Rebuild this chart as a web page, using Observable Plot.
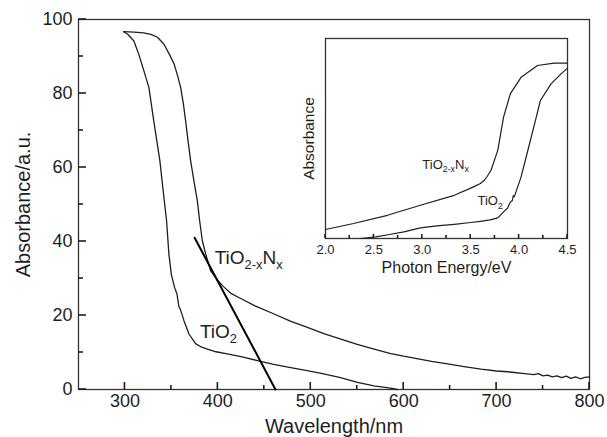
<!DOCTYPE html>
<html><head><meta charset="utf-8">
<script src="https://cdn.jsdelivr.net/npm/d3@7"></script>
<script src="https://cdn.jsdelivr.net/npm/@observablehq/plot@0.6"></script>
<style>
body{margin:0;background:#fff;}
#wrap{position:relative;width:607px;height:437px;overflow:hidden;}
#inset{position:absolute;left:300px;top:33px;}
</style></head><body><div id="wrap"><div id="main"></div><div id="inset"></div></div>
<script>
// Main chart: absorbance vs wavelength
const tio2Nm = [298.5,303,309.6,315,320.4,325.8,331,337.6,341,344.8,347.3,350,353.4,356,358,360,363.5,368.9,376,382,388.7,398,410,425,442.6,460,478.4,496,514,532,550.3,568,586,593];
const tio2Abs = [96.7,96.0,94.2,90.5,86.1,81.6,72.6,61.8,54,45.6,36.6,31,27.6,25.8,22.5,21.4,18.6,15,12.4,11.5,10.9,10.2,9.6,8.9,7.8,6.8,5.9,5.1,4.2,3.2,1.9,1.0,0.4,0];
const tioNNm = [298.5,310,320,328,335,342,348,353,357,360,363,365.3,368,370.7,374.5,377.9,380.4,383.3,386.9,392.2,399.4,406,414,424.6,440,460.5,478,496.4,514,532.3,550,568.2,586,600,611.3,630,647.3,665,683.2,700,712,719,730,740,745,750,755,760,765,770,775,780,785,790,795,800];
const tioNAbs = [96.7,96.6,96.4,96.0,95.2,93.3,90.5,87.9,84.5,81.6,77,72.6,67,61.8,56,51,45.6,40.2,36.6,32.1,29.6,27.8,26.0,24.6,22.6,20.4,18.5,16.8,15.1,13.6,12.2,10.9,9.7,9.0,8.5,7.6,6.9,6.2,5.5,5.0,4.8,4.6,4.3,4.0,4.3,3.7,3.9,3.4,3.7,3.2,3.6,3.0,3.4,2.9,3.3,3.4];
const tangentNm = [375, 462];
const tangentAbs = [41, 0];
const xMajor = [300,400,500,600,700,800];
const xMinor = [350,450,550,650,750];
const yMajor = [0,20,40,60,80,100];
const yMinor = [10,30,50,70,90];
const mainLabels = [{t:"TiO2-xNx", nm:396.6, a:34.0}, {t:"TiO2", nm:380.7, a:14.0}];

// Inset: absorbance vs photon energy
const insetNE = [2.0,2.29,2.64,2.98,3.33,3.53,3.60,3.64,3.67,3.71,3.78,3.84,3.91,4.02,4.19,4.36,4.5];
const insetNV = [4.5,7.5,11.6,16.6,21.6,25.8,27.5,29.1,31,34.1,44.2,60.8,72.4,80.6,86.5,87.7,87.7];
const insetTE = [2.36,2.52,2.66,2.81,2.98,3.15,3.33,3.50,3.60,3.70,3.78,3.84,3.88,3.91,3.93,3.94,3.95,4.02,4.09,4.16,4.22,4.33,4.43,4.5];
const insetTV = [0,0.8,2,3.3,5.3,6.3,7.1,8.0,8.6,9.3,10.3,13.3,15.1,18.2,19.0,21.5,20.8,30.7,44,57.3,69,77.3,82.2,85.2];
const insetMajor = [2.0,2.5,3.0,3.5,4.0,4.5];
const insetMinor = [2.25,2.75,3.25,3.75,4.25];
const insetLabels = [{t:"TiO2-xNx", e:3.0, v:35.0}, {t:"TiO2", e:3.57, v:16.6}];

const FONT = "Liberation Sans, Arial, sans-serif";
const INK = "#1e1e1e";
const zip = (xs, ys) => xs.map((x, i) => ({x, y: ys[i]}));

const main = Plot.plot({
  width: 607, height: 437,
  marginLeft: 78, marginRight: 18, marginTop: 19, marginBottom: 48,
  style: {fontFamily: FONT, color: INK, background: "transparent"},
  x: {domain: [250, 800]},
  y: {domain: [0, 100]},
  marks: [
    Plot.axisX(xMajor, {tickSize: 0, tickPadding: 5, fontSize: 18, label: null}),
    Plot.axisY(yMajor, {tickSize: 0, tickPadding: 6, fontSize: 18, label: null}),
    Plot.frame({stroke: "#333", strokeWidth: 1.3}),
    Plot.line(zip(tio2Nm, tio2Abs), {x: "x", y: "y", stroke: INK, strokeWidth: 1.3}),
    Plot.line(zip(tioNNm, tioNAbs), {x: "x", y: "y", stroke: INK, strokeWidth: 1.3}),
    Plot.line(zip(tangentNm, tangentAbs), {x: "x", y: "y", stroke: "#000", strokeWidth: 2}),
    Plot.text(mainLabels, {x: "nm", y: "a", text: "t", textAnchor: "start", lineAnchor: "bottom", fontSize: 19, fill: INK}),
    Plot.text(["Wavelength/nm"], {frameAnchor: "bottom", dy: 37, textAnchor: "middle", lineAnchor: "middle", fontSize: 20, fill: INK}),
    Plot.text(["Absorbance/a.u."], {frameAnchor: "left", dx: -55, rotate: -90, textAnchor: "middle", lineAnchor: "middle", fontSize: 20, fill: INK})
  ]
});
document.getElementById("main").appendChild(main);

const inset = Plot.plot({
  width: 277, height: 250,
  marginLeft: 25, marginRight: 10, marginTop: 5, marginBottom: 45,
  style: {fontFamily: FONT, color: INK, background: "transparent"},
  x: {domain: [2.0, 4.5]},
  y: {domain: [0, 100], axis: null},
  marks: [
    Plot.axisX(insetMajor, {tickSize: 0, tickPadding: 6, fontSize: 13, tickFormat: d3.format(".1f"), label: null}),
    Plot.frame({stroke: "#333", strokeWidth: 1.3}),
    Plot.line(zip(insetNE, insetNV), {x: "x", y: "y", stroke: INK, strokeWidth: 1.2}),
    Plot.line(zip(insetTE, insetTV), {x: "x", y: "y", stroke: INK, strokeWidth: 1.2}),
    Plot.text(insetLabels, {x: "e", y: "v", text: "t", textAnchor: "start", lineAnchor: "bottom", fontSize: 13, fill: INK}),
    Plot.text(["Photon Energy/eV"], {frameAnchor: "bottom", dy: 29, textAnchor: "middle", lineAnchor: "middle", fontSize: 16, fill: INK}),
    Plot.text(["Absorbance"], {frameAnchor: "left", dx: -16, rotate: -90, textAnchor: "middle", lineAnchor: "middle", fontSize: 15.5, fill: INK})
  ]
});
document.getElementById("inset").appendChild(inset);

// Inward-pointing ticks placed through the plots' own scales
function inwardTicks(svg, dim, values, len) {
  const sx = svg.scale("x"), sy = svg.scale("y");
  const x0 = sx.apply(sx.domain[0]), y0 = sy.apply(sy.domain[0]);
  const g = d3.select(svg).append("g").attr("stroke", INK).attr("stroke-width", 1.6);
  values.forEach(v => {
    const l = g.append("line");
    if (dim === "x") {
      const px = sx.apply(v);
      l.attr("x1", px).attr("x2", px).attr("y1", y0).attr("y2", y0 - len);
    } else {
      const py = sy.apply(v);
      l.attr("x1", x0).attr("x2", x0 + len).attr("y1", py).attr("y2", py);
    }
  });
}
inwardTicks(main, "x", xMajor, 7);
inwardTicks(main, "x", xMinor, 4);
inwardTicks(main, "y", yMajor, 8);
inwardTicks(main, "y", yMinor, 5);
inwardTicks(inset, "x", insetMajor, 4);
inwardTicks(inset, "x", insetMinor, 3);

// Render chemical subscripts as real tspans
function subscriptify(svg) {
  svg.querySelectorAll("text").forEach(el => {
    const s = el.textContent;
    if (s !== "TiO2-xNx" && s !== "TiO2") return;
    const fs = parseFloat(el.getAttribute("font-size") || getComputedStyle(el).fontSize);
    const sub = fs * 0.68, shift = fs * 0.3;
    const parts = s === "TiO2" ? [["TiO", 0], ["2", 1]] : [["TiO", 0], ["2-x", 1], ["N", 0], ["x", 1]];
    while (el.firstChild) el.removeChild(el.firstChild);
    let cur = 0;
    parts.forEach(([txt, isSub]) => {
      const ts = document.createElementNS("http://www.w3.org/2000/svg", "tspan");
      ts.textContent = txt;
      const target = isSub ? shift : 0;
      ts.setAttribute("dy", (target - cur).toFixed(2));
      cur = target;
      if (isSub) ts.setAttribute("font-size", sub.toFixed(1));
      el.appendChild(ts);
    });
  });
}
subscriptify(main);
subscriptify(inset);
</script>
</body></html>
